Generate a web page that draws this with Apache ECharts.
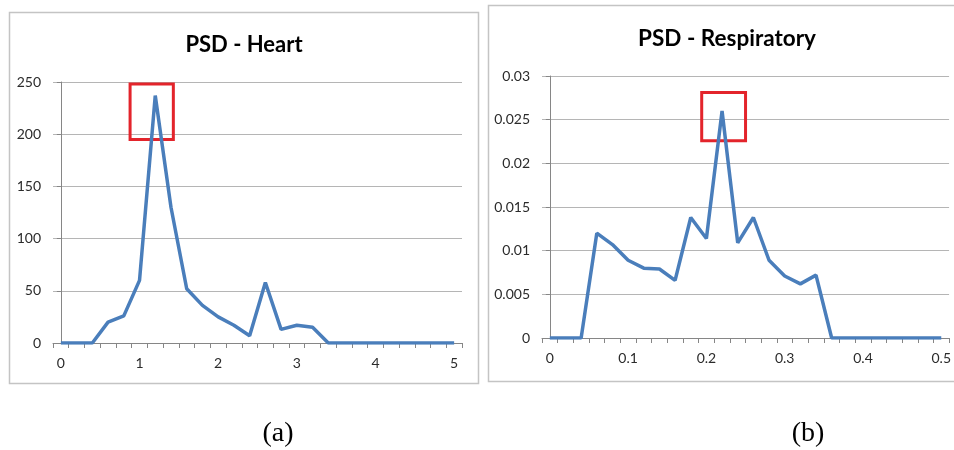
<!DOCTYPE html>
<html>
<head>
<meta charset="utf-8">
<script src="https://cdn.jsdelivr.net/npm/echarts@6/dist/echarts.min.js"></script>
<style>
  html, body { margin: 0; padding: 0; background: #fff; }
  #main { width: 954px; height: 450px; }
</style>
</head>
<body>
<div id="main"></div>
<script>
// heart PSD, frequency bins 0 .. 5 step 0.2
const heartFreq = [0, 0.2, 0.4, 0.6, 0.8, 1, 1.2, 1.4, 1.6, 1.8, 2, 2.2, 2.4, 2.6, 2.8, 3, 3.2, 3.4, 3.6, 3.8, 4, 4.2, 4.4, 4.6, 4.8, 5]
const heartPsd = [0, 0, 0, 20, 26, 60, 237, 130, 52, 36, 25, 17, 7, 58, 13, 17, 15, 0, 0, 0, 0, 0, 0, 0, 0, 0]
// respiratory PSD, frequency bins 0 .. 0.5 step 0.02
const respFreq = [0, 0.02, 0.04, 0.06, 0.08, 0.1, 0.12, 0.14, 0.16, 0.18, 0.2, 0.22, 0.24, 0.26, 0.28, 0.3, 0.32, 0.34, 0.36, 0.38, 0.4, 0.42, 0.44, 0.46, 0.48, 0.5]
const respPsd = [0, 0, 0, 0.0120, 0.0107, 0.0089, 0.0080, 0.0079, 0.0066, 0.0138, 0.0114, 0.0260, 0.0109, 0.0138, 0.0089, 0.0071, 0.0062, 0.0072, 0, 0, 0, 0, 0, 0, 0, 0]
// highlighted peak boxes [x0, y0, x1, y1]
const heartBox = [0.88, 248, 1.43, 195]
const respBox = [0.194, 0.0281, 0.25, 0.0226]

const lineColor = '#4a7ebb'
const gridColor = '#b5b5b5'
const axisColor = '#868686'
const labelFont = 'Lato'

function pairs(xs, ys) {
    return xs.map((x, i) => [x, ys[i]])
}

function catAxis(grid, names) {
    return {
        type: 'category',
        gridIndex: grid,
        data: names.map(String),
        boundaryGap: true,
        axisLine: { show: true, lineStyle: { color: axisColor, width: 1 } },
        axisTick: { show: true, interval: 0, length: 5, lineStyle: { color: axisColor } },
        axisLabel: { interval: 4, margin: 13, fontSize: 14, fontFamily: labelFont, color: '#2b2b2b' },
        splitLine: { show: false }
    }
}

function hiddenX(grid, min, max) {
    return { type: 'value', gridIndex: grid, min: min, max: max, show: false }
}

function valAxis(grid, max, step) {
    return {
        type: 'value',
        gridIndex: grid,
        min: 0,
        max: max,
        interval: step,
        axisLine: { show: true, lineStyle: { color: axisColor, width: 1 } },
        axisTick: { show: true, length: 4, lineStyle: { color: axisColor } },
        axisLabel: { margin: 12, fontSize: 14, fontFamily: labelFont, color: '#2b2b2b' },
        splitLine: { lineStyle: { color: gridColor, width: 1 } }
    }
}

function psdSeries(xi, yi, data, box) {
    return {
        type: 'line',
        xAxisIndex: xi,
        yAxisIndex: yi,
        data: data,
        showSymbol: false,
        symbol: 'none',
        lineStyle: { color: lineColor, width: 3.5 },
        itemStyle: { color: lineColor },
        markArea: {
            silent: true,
            itemStyle: { color: 'rgba(0,0,0,0)', borderColor: '#e3242b', borderWidth: 3 },
            data: [[{ coord: [box[0], box[1]] }, { coord: [box[2], box[3]] }]]
        }
    }
}

let chart = echarts.init(document.getElementById('main'))
chart.setOption({
    animation: false,
    grid: [
        { left: 53, top: 82, width: 409, height: 261 },
        { left: 542, top: 76, width: 409, height: 262 }
    ],
    xAxis: [
        catAxis(0, heartFreq),
        hiddenX(0, -0.1, 5.1),
        catAxis(1, respFreq),
        hiddenX(1, -0.01, 0.51)
    ],
    yAxis: [
        valAxis(0, 250, 50),
        valAxis(1, 0.03, 0.005)
    ],
    series: [
        psdSeries(1, 0, pairs(heartFreq, heartPsd), heartBox),
        psdSeries(3, 1, pairs(respFreq, respPsd), respBox)
    ],
    graphic: [
        { type: 'rect', shape: { x: 9.5, y: 12.5, width: 469, height: 371 }, style: { fill: 'none', stroke: '#c4c4c4', lineWidth: 1.5 }, z: 0 },
        { type: 'rect', shape: { x: 488.5, y: 5.5, width: 480, height: 376 }, style: { fill: 'none', stroke: '#c4c4c4', lineWidth: 1.5 }, z: 0 },
        { type: 'text', x: 244, y: 45, style: { text: 'PSD - Heart', font: 'bold 22px Lato', fill: '#000', textAlign: 'center', textVerticalAlign: 'middle' } },
        { type: 'text', x: 727, y: 39, style: { text: 'PSD - Respiratory', font: 'bold 22.5px Lato', fill: '#000', textAlign: 'center', textVerticalAlign: 'middle' } },
        { type: 'text', x: 278, y: 434, style: { text: '(a)', font: '28px "Liberation Serif"', fill: '#000', textAlign: 'center', textVerticalAlign: 'middle' } },
        { type: 'text', x: 808, y: 434, style: { text: '(b)', font: '28px "Liberation Serif"', fill: '#000', textAlign: 'center', textVerticalAlign: 'middle' } }
    ]
})
</script>
</body>
</html>
